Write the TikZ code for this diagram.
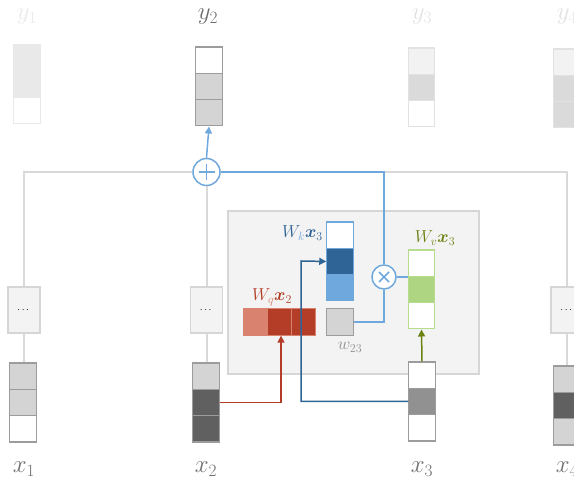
\documentclass[tikz,border=0pt]{standalone}
\usepackage{amsmath}
\usetikzlibrary{arrows.meta,calc}
\definecolor{gline}{HTML}{D9D9D9}
\definecolor{clight}{HTML}{D4D4D4}
\definecolor{cdark}{HTML}{606060}
\definecolor{cmid}{HTML}{919191}
\definecolor{vborder}{HTML}{9C9C9C}
\definecolor{boxfill}{HTML}{F3F3F3}
\definecolor{boxdraw}{HTML}{D6D6D6}
\definecolor{blueL}{HTML}{6FA8DC}
\definecolor{blueD}{HTML}{2E6496}
\definecolor{redL}{HTML}{D8826F}
\definecolor{redD}{HTML}{B33D27}
\definecolor{greenL}{HTML}{AED581}
\definecolor{greenB}{HTML}{B8DC8E}
\definecolor{olive}{HTML}{6B8213}
\definecolor{labgray}{HTML}{6E6E6E}
\definecolor{faded}{HTML}{E2E2E2}
\definecolor{fadedA}{HTML}{E9E9E9}
\definecolor{fadedB}{HTML}{F2F2F2}
\definecolor{fadedC}{HTML}{DADADA}
\tikzset{
  cell/.style={rectangle, inner sep=0pt, minimum width=26.3pt, minimum height=26.3pt, line width=1.2pt},
  hcell/.style={rectangle, inner sep=0pt, minimum width=24.3pt, minimum height=26.3pt, line width=1pt},
  dotsbox/.style={rectangle, inner sep=0pt, minimum width=32pt, minimum height=46pt, fill=boxfill, draw=boxdraw, line width=1.5pt},
  opcirc/.style={circle, inner sep=0pt, draw=blueL, fill=white, line width=1.5pt},
  gconn/.style={draw=gline, line width=2pt},
  arr/.style={line width=1.5pt, -{Triangle[length=7pt,width=7pt]}},
  outlab/.style={font=\fontsize{26}{30}\selectfont},
  inlab/.style={font=\fontsize{18}{21}\selectfont, inner sep=0pt},
}
% \vecthree{name}{x}{ytop}{fill1}{fill2}{fill3}{border}
\newcommand{\vecthree}[7]{%
  \node[cell, fill=#4, draw=#7] (#1-1) at (#2, #3+13.15) {};
  \node[cell, fill=#5, draw=#7] (#1-2) at (#2, #3+39.45) {};
  \node[cell, fill=#6, draw=#7] (#1-3) at (#2, #3+65.75) {};
}
\begin{document}
\begin{tikzpicture}[x=1pt, y=-1pt]
\useasboundingbox (0,0) rectangle (574,484);

% big box
\node[rectangle, fill=boxfill, draw=boxdraw, line width=1.5pt, minimum width=251pt, minimum height=163pt, inner sep=0pt] (attn) at (353.5, 292.5) {};

% dots boxes
\node[dotsbox] (dots1) at (24, 310) {$\cdots$};
\node[dotsbox] (dots2) at (206.5, 310) {$\cdots$};
\node[dotsbox] (dots4) at (567, 310) {$\cdots$};

% operator circles
\node[opcirc, minimum size=27pt] (plus) at (206.5, 172) {};
\node[opcirc, minimum size=24pt] (times) at (384, 277) {};
\draw[blueL, line width=1.5pt] ($(plus)+(-8,0)$) -- ($(plus)+(8,0)$) ($(plus)+(0,-8)$) -- ($(plus)+(0,8)$);
\draw[blueL, line width=1.5pt] ($(times)+(-5,-5)$) -- ($(times)+(5,5)$) ($(times)+(-5,5)$) -- ($(times)+(5,-5)$);

% gray connectors
\draw[gconn] (dots1.north) |- (plus.west);
\draw[gconn] (dots1.south) -- ++(0,30);
\draw[gconn] (plus.south) -- (dots2.north);
\draw[gconn] (dots2.south) -- ++(0,30);
\draw[gconn] (dots4.north) |- (times.center |- plus.east);
\draw[gconn] (dots4.south) -- ++(0,33);

% output vectors
\vecthree{y1}{27}{45}{fadedA}{fadedA}{white}{fadedA}
\vecthree{y2}{209}{47}{white}{clight}{clight}{vborder}
\vecthree{y3}{421.5}{48}{fadedB}{fadedC}{white}{faded}
\vecthree{y4}{567}{49}{fadedB}{fadedC}{fadedC}{faded}

% input vectors
\vecthree{x1}{23}{363}{clight}{clight}{white}{vborder}
\vecthree{x2}{206}{363}{clight}{cdark}{cdark}{vborder}
\vecthree{x3}{422}{362}{white}{cmid}{white}{vborder}
\vecthree{x4}{567}{366}{clight}{cdark}{clight}{vborder}

% projected vectors
\vecthree{wk}{340}{222}{white}{blueD}{blueL}{blueL}
\vecthree{wv}{421.5}{250}{white}{greenL}{white}{greenB}
\node[hcell, fill=redL, draw=redL] (wq-1) at (255.15, 322) {};
\node[hcell, fill=redD, draw=redL] (wq-2) at (279.45, 322) {};
\node[hcell, fill=redD, draw=redL] (wq-3) at (303.75, 322) {};
\node[cell, fill=clight, draw=vborder] (w23) at (340, 322) {};

% labels
\node[outlab, text=fadedA] (ly1) at (27, 17) {$y_1$};
\node[outlab, text=labgray] (ly2) at (208, 17) {$y_2$};
\node[outlab, text=faded] (ly3) at (422, 17) {$y_3$};
\node[outlab, text=faded] (ly4) at (567, 17) {$y_4$};
\node[outlab, text=labgray] (lx1) at (24, 469) {$x_1$};
\node[outlab, text=labgray] (lx2) at (206, 469) {$x_2$};
\node[outlab, text=labgray] (lx3) at (422, 469) {$x_3$};
\node[outlab, text=labgray] (lx4) at (567, 469) {$x_4$};
\node[inlab, anchor=east] (lwk) at (323, 233) {$\color{blueD}W_{\color{blueL}k}\boldsymbol{x}_3$};
\node[inlab] (lwq) at (272, 297) {$\color{redD}W_{\color{redL}q}\boldsymbol{x}_2$};
\node[inlab] (lwv) at (435, 238) {$\color{olive}W_{v}\boldsymbol{x}_3$};
\node[inlab, text=cmid] (lw23) at (350, 347) {$w_{23}$};

% arrows
\draw[arr, redD] (x2-2.east) -| (wq-2.south -| 281,0);
\coordinate (bturn) at (301, 261);
\draw[arr, blueD] (x3-2.west) -| (bturn) -- (wk-2.west);
\draw[arr, olive] (x3-1.north) -- (wv-3.south);
\draw[line width=1.5pt, blueL] (w23.east) -| (times.south);
\draw[line width=1.5pt, blueL] (times.east) -- (times.east -| wv-2.west);
\draw[line width=1.5pt, blueL] (times.north) |- (plus.east);
\draw[arr, blueL] (plus.north) -- (y2-3.south);
\end{tikzpicture}
\end{document}
